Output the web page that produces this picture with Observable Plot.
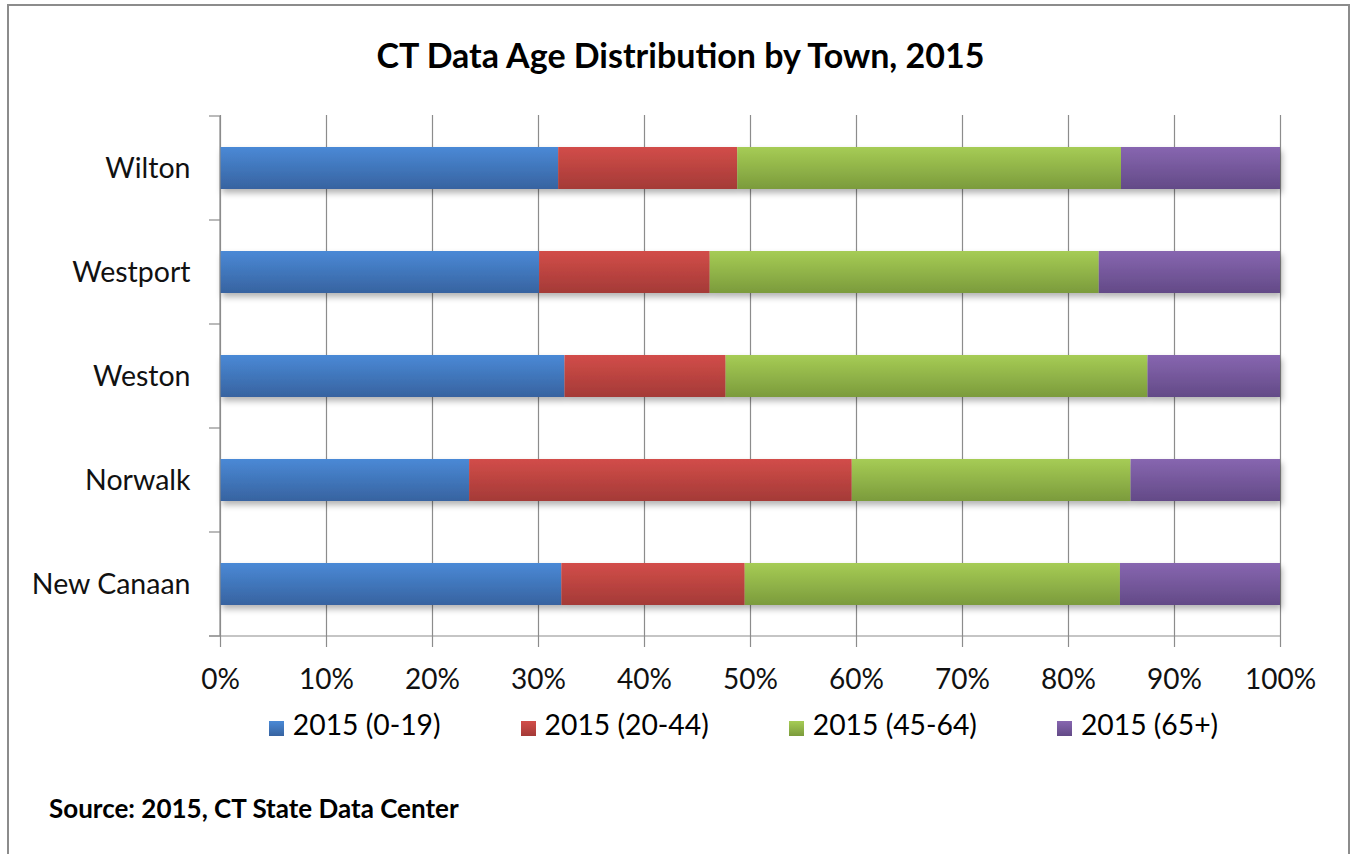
<!DOCTYPE html>
<html>
<head>
<meta charset="utf-8">
<script src="https://cdn.jsdelivr.net/npm/d3@7"></script>
<script src="https://cdn.jsdelivr.net/npm/@observablehq/plot@0.6"></script>
<style>
  html, body { margin: 0; padding: 0; background: #fff; overflow: hidden; }
  #page { position: relative; width: 1351px; height: 854px; font-family: Lato, "Open Sans", sans-serif; color: #000; }
  #border { position: absolute; left: 7px; top: 4px; width: 1339px; height: 900px; border: 2px solid #8c8c8c; box-sizing: content-box; }
  #title { position: absolute; left: 0; width: 1361px; top: 34px; text-align: center; font-weight: 700; font-size: 34px; line-height: 42px; }
  #chart { position: absolute; left: 0; top: 90px; }
  #legend { position: absolute; left: 210px; width: 1067px; top: 707px; display: flex; justify-content: center; gap: 80px; font-size: 28.3px; line-height: 34px; }
  .item { display: flex; align-items: center; }
  .sw { width: 15px; height: 15px; margin-right: 9px; margin-top: 8px; }
  #source { position: absolute; left: 49px; top: 792px; font-weight: 700; font-size: 26px; line-height: 32px; }
</style>
</head>
<body>
<div id="page">
  <div id="border"></div>
  <div id="title">CT Data Age Distribution by Town, 2015</div>
  <div id="chart"></div>
  <div id="legend"></div>
  <div id="source">Source: 2015, CT State Data Center</div>
</div>
<script>
// ---- data (percent of population by age group) ----
const towns = ["Wilton", "Westport", "Weston", "Norwalk", "New Canaan"];
const groups = ["2015 (0-19)", "2015 (20-44)", "2015 (45-64)", "2015 (65+)"];
const age0to19  = [31.9, 30.1, 32.5, 23.5, 32.2];
const age20to44 = [16.9, 16.1, 15.2, 36.1, 17.3];
const age45to64 = [36.2, 36.7, 39.8, 26.3, 35.4];
const age65plus = [15.0, 17.1, 12.5, 14.1, 15.1];
const xTickValues = [0, 0.1, 0.2, 0.3, 0.4, 0.5, 0.6, 0.7, 0.8, 0.9, 1];
const xTickLabels = ["0%", "10%", "20%", "30%", "40%", "50%", "60%", "70%", "80%", "90%", "100%"];

// colours (top / bottom of each bar gradient)
const gradTop    = ["#4a89d6", "#d24d49", "#a6cc55", "#8766b0"];
const gradBottom = ["#3763a0", "#a43a37", "#7b9b3c", "#634a87"];

const series = [age0to19, age20to44, age45to64, age65plus];
const rows = [];
towns.forEach((town, i) => {
  groups.forEach((g, j) => rows.push({town, group: g, value: series[j][i]}));
});

const gray = "#8c8c8c";

// band boundary ticks on the category axis + bottom axis line, drawn from Plot's scales
function categoryAxisLine(index, scales) {
  const y = scales.y, x = scales.x;
  const g = d3.create("svg:g");
  const bw = y.bandwidth ? y.bandwidth() : 0;
  const step = y.step ? y.step() : bw;
  const x0 = x(0);
  const bounds = towns.map(t => y(t) - (step - bw) / 2);
  bounds.push(y(towns[towns.length - 1]) + bw + (step - bw) / 2);
  for (const b of bounds) {
    g.append("line").attr("x1", x0 - 11).attr("x2", x0).attr("y1", b).attr("y2", b)
      .attr("stroke", gray).attr("stroke-width", 1.2);
  }
  g.append("line").attr("x1", x0).attr("x2", x0).attr("y1", bounds[0]).attr("y2", bounds[bounds.length - 1])
    .attr("stroke", gray).attr("stroke-width", 1.2);
  g.append("line").attr("x1", x0 - 11).attr("x2", x(1)).attr("y1", bounds[bounds.length - 1]).attr("y2", bounds[bounds.length - 1])
    .attr("stroke", gray).attr("stroke-width", 1.2);
  return g.node();
}

const chart = Plot.plot({
  width: 1351,
  height: 612,
  marginTop: 25,
  marginBottom: 65,
  marginLeft: 220,
  marginRight: 71,
  style: {fontFamily: "Lato, 'Open Sans', sans-serif", fontSize: "28px", color: "#000", background: "transparent", overflow: "visible"},
  x: {domain: [0, 1], axis: null, label: null},
  y: {domain: towns, paddingInner: 0.6, paddingOuter: 0.3, axis: null, label: null},
  color: {domain: groups, range: groups.map((g, i) => `url(#grad${i})`)},
  marks: [
    Plot.gridX(xTickValues, {stroke: gray, strokeOpacity: 1, strokeWidth: 1.2}),
    Plot.barX(rows, Plot.stackX({x: "value", y: "town", fill: "group", offset: "normalize"})),
    categoryAxisLine,
    Plot.axisX({
      ticks: xTickValues,
      tickFormat: (d) => xTickLabels[xTickValues.indexOf(d)],
      tickSize: 10,
      tickPadding: 22,
      stroke: gray,
      strokeOpacity: 1,
      strokeWidth: 1.2,
      fill: "#111",
      fontSize: 28,
      label: null
    }),
    Plot.axisY({
      tickSize: 0,
      tickPadding: 30,
      fill: "#111",
      fontSize: 28.5,
      label: null
    })
  ]
});

// gradients + drop shadow
const defs = `<defs>
  ${groups.map((g, i) => `<linearGradient id="grad${i}" x1="0" y1="0" x2="0" y2="1">
     <stop offset="0" stop-color="${gradTop[i]}"/><stop offset="1" stop-color="${gradBottom[i]}"/></linearGradient>`).join("")}
  <filter id="shadow" x="-5%" y="-30%" width="110%" height="180%">
    <feDropShadow dx="2" dy="4" stdDeviation="3" flood-color="#000" flood-opacity="0.3"/>
  </filter>
</defs>`;
chart.insertAdjacentHTML("afterbegin", defs);
const barGroup = chart.querySelector('g[aria-label="bar"]');
if (barGroup) barGroup.setAttribute("filter", "url(#shadow)");

document.getElementById("chart").appendChild(chart);

// legend
const legend = document.getElementById("legend");
groups.forEach((g, i) => {
  const item = document.createElement("div");
  item.className = "item";
  const sw = document.createElement("span");
  sw.className = "sw";
  sw.style.background = `linear-gradient(${gradTop[i]}, ${gradBottom[i]})`;
  const label = document.createElement("span");
  label.textContent = g;
  item.appendChild(sw);
  item.appendChild(label);
  legend.appendChild(item);
});
</script>
</body>
</html>
